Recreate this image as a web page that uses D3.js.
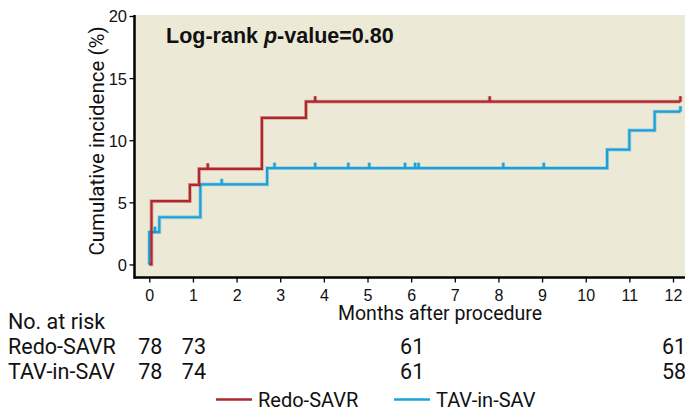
<!DOCTYPE html>
<html>
<head>
<meta charset="utf-8">
<script src="https://cdn.jsdelivr.net/npm/d3@7"></script>
<style>
  html, body { margin: 0; padding: 0; background: #ffffff; }
  svg { display: block; }
</style>
</head>
<body>
<svg id="chart" width="685" height="410"></svg>
<script>
// ---- Data ----
const redoTimes  = [0, 0.05, 0.93, 1.14, 2.58, 3.59, 12.17];
const redoValues = [0, 5.1, 6.4, 7.7, 11.8, 13.1, 13.1];
const redoCensor = [1.34, 3.8, 7.8, 12.17];

const tavTimes  = [0, 0, 0.23, 1.17, 2.7, 10.49, 11.0, 11.58, 12.17];
const tavValues = [0, 2.6, 3.8, 6.45, 7.75, 9.25, 10.8, 12.3, 12.3];
const tavCensor = [0.13, 1.66, 2.87, 3.8, 4.56, 5.04, 5.86, 6.09, 6.17, 8.11, 9.04, 12.17];

const xTicks = [0,1,2,3,4,5,6,7,8,9,10,11,12];
const yTicks = [0,5,10,15,20];

const riskTimes = [0, 1, 6, 12];
const riskRedo  = [78, 73, 61, 61];
const riskTav   = [78, 74, 61, 58];

const seriesNames = ["Redo-SAVR", "TAV-in-SAV"];
const seriesColors = ["#B0272D", "#1DA0DA"];

// ---- Layout ----
const svg = d3.select("#chart");
const x = d3.scaleLinear().domain([0, 12]).range([149.3, 673]);
const y = d3.scaleLinear().domain([-1.05, 20]).range([277.5, 16]);
const plotLeft = 135, plotRight = 685, plotTop = 15, plotBottom = 277.5;

const narrow = "'Liberation Sans Narrow', 'Arial Narrow', sans-serif";
const sans = "Roboto, 'Liberation Sans', sans-serif";

svg.append("rect")
  .attr("x", plotLeft).attr("y", plotTop)
  .attr("width", plotRight - plotLeft).attr("height", plotBottom - plotTop)
  .attr("fill", "#ECE9D7");

// Title
const title = svg.append("text")
  .attr("x", 166).attr("y", 43)
  .attr("font-family", narrow).attr("font-weight", "bold")
  .attr("font-size", 21.5).attr("fill", "#111");
title.append("tspan").text("Log-rank ");
title.append("tspan").attr("font-style", "italic").text("p");
title.append("tspan").text("-value=0.80");

// Step curves
function stepValue(times, values, t) {
  let v = values[0];
  for (let i = 0; i < times.length; i++) if (times[i] <= t) v = values[i];
  return v;
}
const line = d3.line().x(d => x(d[0])).y(d => y(d[1])).curve(d3.curveStepAfter);

function drawSeries(times, values, censor, color) {
  const pts = times.map((t, i) => [t, values[i]]);
  const g = svg.append("g");
  [[3.8, 0.35], [2.2, 1]].forEach(([w, op]) => {
    g.append("path").datum(pts)
      .attr("d", line).attr("fill", "none")
      .attr("stroke", color).attr("stroke-width", w).attr("stroke-opacity", op)
      .attr("stroke-linejoin", "miter");
    g.selectAll(null).data(censor).enter().append("line")
      .attr("x1", d => x(d)).attr("x2", d => x(d))
      .attr("y1", d => y(stepValue(times, values, d)))
      .attr("y2", d => y(stepValue(times, values, d)) - 5.5)
      .attr("stroke", color).attr("stroke-width", w).attr("stroke-opacity", op);
  });
}
drawSeries(tavTimes, tavValues, tavCensor, seriesColors[1]);
drawSeries(redoTimes, redoValues, redoCensor, seriesColors[0]);

// Axes
const xAxis = svg.append("g").attr("transform", `translate(0,${plotBottom})`)
  .call(d3.axisBottom(x).tickValues(xTicks).tickSize(5).tickSizeOuter(0).tickPadding(5));
xAxis.select(".domain").remove();
xAxis.append("line").attr("x1", plotLeft - 1.2).attr("x2", plotRight)
  .attr("y1", 0).attr("y2", 0).attr("stroke", "#000").attr("stroke-width", 2.5);
xAxis.selectAll(".tick line").attr("stroke", "#000").attr("stroke-width", 1.3);
xAxis.selectAll(".tick text").attr("font-family", narrow).attr("font-size", 16)
  .attr("fill", "#111").attr("dy", null).attr("y", 23);

const yAxis = svg.append("g").attr("transform", `translate(${plotLeft - 0.5},0)`)
  .call(d3.axisLeft(y).tickValues(yTicks).tickSize(5).tickSizeOuter(0).tickPadding(2.5));
yAxis.select(".domain").remove();
yAxis.append("line").attr("x1", 0).attr("x2", 0)
  .attr("y1", plotTop).attr("y2", plotBottom + 1.2).attr("stroke", "#000").attr("stroke-width", 2.5);
yAxis.selectAll(".tick line").attr("stroke", "#000").attr("stroke-width", 1.3);
yAxis.selectAll(".tick text").attr("font-family", narrow).attr("font-size", 16.5)
  .attr("fill", "#111").attr("dy", "0.36em");

// Axis titles
svg.append("text")
  .attr("transform", "translate(104,141) rotate(-90)")
  .attr("text-anchor", "middle")
  .attr("font-family", sans).attr("font-size", 20.5).attr("fill", "#111")
  .text("Cumulative incidence (%)");

svg.append("text")
  .attr("x", 440).attr("y", 320).attr("text-anchor", "middle")
  .attr("font-family", sans).attr("font-size", 19.5).attr("fill", "#111")
  .text("Months after procedure");

// Number at risk
const riskFont = 21.5;
svg.append("text").attr("x", 8).attr("y", 328.5)
  .attr("font-family", sans).attr("font-size", riskFont).attr("fill", "#111")
  .text("No. at risk");
[[riskRedo, 353.5], [riskTav, 379]].forEach(([vals, yy], i) => {
  svg.append("text").attr("x", 8).attr("y", yy)
    .attr("font-family", sans).attr("font-size", riskFont).attr("fill", "#111")
    .text(seriesNames[i]);
  svg.selectAll(null).data(vals).enter().append("text")
    .attr("x", (d, j) => x(riskTimes[j]) + 1).attr("y", yy)
    .attr("text-anchor", "middle")
    .attr("font-family", sans).attr("font-size", riskFont).attr("fill", "#111")
    .text(d => d);
});

// Legend
const legendX = [216, 394];
seriesNames.forEach((name, i) => {
  svg.append("line").attr("x1", legendX[i]).attr("x2", legendX[i] + 36)
    .attr("y1", 399.5).attr("y2", 399.5)
    .attr("stroke", seriesColors[i]).attr("stroke-width", 2.6);
  svg.append("text").attr("x", legendX[i] + 42).attr("y", 406.5)
    .attr("font-family", sans).attr("font-size", 20).attr("fill", "#111")
    .text(name);
});
</script>
</body>
</html>
